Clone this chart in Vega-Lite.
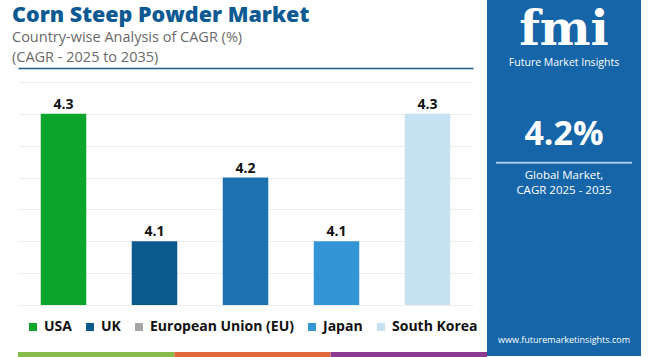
{
  "$schema": "https://vega.github.io/schema/vega-lite/v6.json",
  "background": "white",
  "padding": {"left": 0, "top": 0, "right": 9, "bottom": 0},
  "config": {"view": {"stroke": null}, "font": "Open Sans"},
  "spacing": 0,
  "hconcat": [
    {
      "columns": 1,
      "spacing": 4,
      "concat": [
        {
          "width": 455,
          "height": 1,
          "title": {
            "text": "Corn Steep Powder Market",
            "subtitle": ["Country-wise Analysis of CAGR (%)", "(CAGR - 2025 to 2035)"],
            "orient": "bottom",
            "anchor": "start",
            "dx": -6,
            "font": "Open Sans",
            "fontSize": 21.5,
            "fontWeight": 800,
            "color": "#0d5a93",
            "subtitleFont": "Open Sans",
            "subtitleFontSize": 14.5,
            "subtitleColor": "#6a6a6a",
            "subtitleLineHeight": 20,
            "subtitlePadding": 4,
            "offset": 4
          },
          "data": {"values": [{}]},
          "mark": {"type": "bar", "opacity": 0}
        },
        {
          "width": 455,
          "height": 223,
          "data": {
            "values": [
              {"country": "USA", "cagr": 4.3},
              {"country": "UK", "cagr": 4.1},
              {"country": "European Union (EU)", "cagr": 4.2},
              {"country": "Japan", "cagr": 4.1},
              {"country": "South Korea", "cagr": 4.3}
            ]
          },
          "encoding": {
            "x": {
              "field": "country",
              "type": "nominal",
              "sort": ["USA", "UK", "European Union (EU)", "Japan", "South Korea"],
              "scale": {"paddingInner": 0.5, "paddingOuter": 0.25},
              "axis": {
                "orient": "top",
                "offset": 14,
                "labels": false,
                "ticks": false,
                "title": null,
                "grid": false,
                "domainColor": "#1f5f94",
                "domainWidth": 1.5
              }
            },
            "y": {
              "field": "cagr",
              "type": "quantitative",
              "scale": {"domain": [4.0, 4.35], "zero": false, "nice": false},
              "axis": {
                "values": [4.0, 4.05, 4.1, 4.15, 4.2, 4.25, 4.3, 4.35],
                "labels": false,
                "ticks": false,
                "domain": false,
                "title": null,
                "grid": true,
                "gridColor": "#ededed",
                "minExtent": 18,
                "maxExtent": 18
              }
            }
          },
          "layer": [
            {
              "mark": {"type": "bar", "clip": true},
              "encoding": {
                "color": {
                  "field": "country",
                  "type": "nominal",
                  "scale": {
                    "domain": ["USA", "UK", "European Union (EU)", "Japan", "South Korea"],
                    "range": ["#0ca52b", "#0a5a8e", "#1c72b0", "#3394d6", "#c6e2f2"]
                  },
                  "legend": null
                }
              }
            },
            {
              "mark": {"type": "text", "dy": -9, "fontSize": 14, "fontWeight": "bold", "color": "#111111", "font": "Open Sans"},
              "encoding": {"text": {"field": "cagr", "type": "quantitative", "format": ".1f"}}
            },
            {
              "mark": {"type": "point", "shape": "square", "filled": true, "opacity": 0},
              "encoding": {
                "color": {
                  "field": "country",
                  "type": "nominal",
                  "scale": {
                    "domain": ["USA", "UK", "European Union (EU)", "Japan", "South Korea"],
                    "range": ["#0ca52b", "#0a5a8e", "#a6a6a6", "#3394d6", "#c6e2f2"]
                  },
                  "legend": {
                    "title": null,
                    "orient": "bottom",
                    "direction": "horizontal",
                    "columns": 5,
                    "symbolType": "square",
                    "symbolSize": 64,
                    "symbolOpacity": 1,
                    "symbolStrokeWidth": 0,
                    "symbolOffset": 8,
                    "labelFont": "Open Sans",
                    "labelFontSize": 14,
                    "labelFontWeight": "bold",
                    "labelColor": "#111111",
                    "columnPadding": 3,
                    "labelOffset": 4,
                    "offset": 15,
                    "labelLimit": 300
                  }
                }
              }
            }
          ],
          "resolve": {"scale": {"color": "independent"}}
        },
        {
          "width": 469,
          "height": 5,
          "data": {"values": [{"segment": "a"}, {"segment": "b"}, {"segment": "c"}]},
          "mark": {"type": "bar"},
          "encoding": {
            "x": {
              "field": "segment",
              "type": "nominal",
              "scale": {"paddingInner": 0, "paddingOuter": 0},
              "axis": {"orient": "top", "domain": false, "labels": false, "ticks": false, "grid": false, "title": null, "minExtent": 14, "maxExtent": 14}
            },
            "color": {"field": "segment", "type": "nominal", "scale": {"range": ["#86bc4a", "#e0683a", "#8b3a8f"]}, "legend": null}
          }
        }
      ]
    },
    {
      "width": 154,
      "height": 356,
      "view": {"fill": "#1565a8", "stroke": null},
      "data": {"values": [{"global_cagr": 4.2}]},
      "encoding": {
        "x": {"datum": 0.5, "type": "quantitative", "scale": {"domain": [0, 1]}, "axis": null}
      },
      "layer": [
        {
          "mark": {"type": "text", "font": "DejaVu Serif", "fontSize": 48, "fontWeight": "bold", "color": "white", "baseline": "middle"},
          "encoding": {
            "text": {"value": "fmi"},
            "y": {"datum": 0.086, "type": "quantitative", "scale": {"domain": [1, 0]}, "axis": null}
          }
        },
        {
          "mark": {"type": "text", "font": "Open Sans", "fontSize": 10.5, "color": "white", "baseline": "middle"},
          "encoding": {
            "text": {"value": "Future Market Insights"},
            "y": {"datum": 0.177, "type": "quantitative", "scale": {"domain": [1, 0]}, "axis": null}
          }
        },
        {
          "mark": {"type": "text", "font": "Open Sans", "fontSize": 34, "fontWeight": "bold", "color": "white", "baseline": "middle"},
          "encoding": {
            "text": {"value": "4.2%"},
            "y": {"datum": 0.378, "type": "quantitative", "scale": {"domain": [1, 0]}, "axis": null}
          }
        },
        {
          "mark": {"type": "rule", "color": "#a9c9e6", "strokeWidth": 2},
          "encoding": {
            "x": {"datum": 0.058, "type": "quantitative", "scale": {"domain": [0, 1]}, "axis": null},
            "x2": {"datum": 0.942},
            "y": {"datum": 0.457, "type": "quantitative", "scale": {"domain": [1, 0]}, "axis": null}
          }
        },
        {
          "mark": {"type": "text", "font": "Open Sans", "fontSize": 11.5, "color": "white", "baseline": "middle"},
          "encoding": {
            "text": {"value": "Global Market,"},
            "y": {"datum": 0.494, "type": "quantitative", "scale": {"domain": [1, 0]}, "axis": null}
          }
        },
        {
          "mark": {"type": "text", "font": "Open Sans", "fontSize": 11.5, "color": "white", "baseline": "middle"},
          "encoding": {
            "text": {"value": "CAGR 2025 - 2035"},
            "y": {"datum": 0.536, "type": "quantitative", "scale": {"domain": [1, 0]}, "axis": null}
          }
        },
        {
          "mark": {"type": "text", "font": "Open Sans", "fontSize": 9, "color": "white", "baseline": "middle"},
          "encoding": {
            "text": {"value": "www.futuremarketinsights.com"},
            "y": {"datum": 0.955, "type": "quantitative", "scale": {"domain": [1, 0]}, "axis": null}
          }
        }
      ]
    }
  ]
}
